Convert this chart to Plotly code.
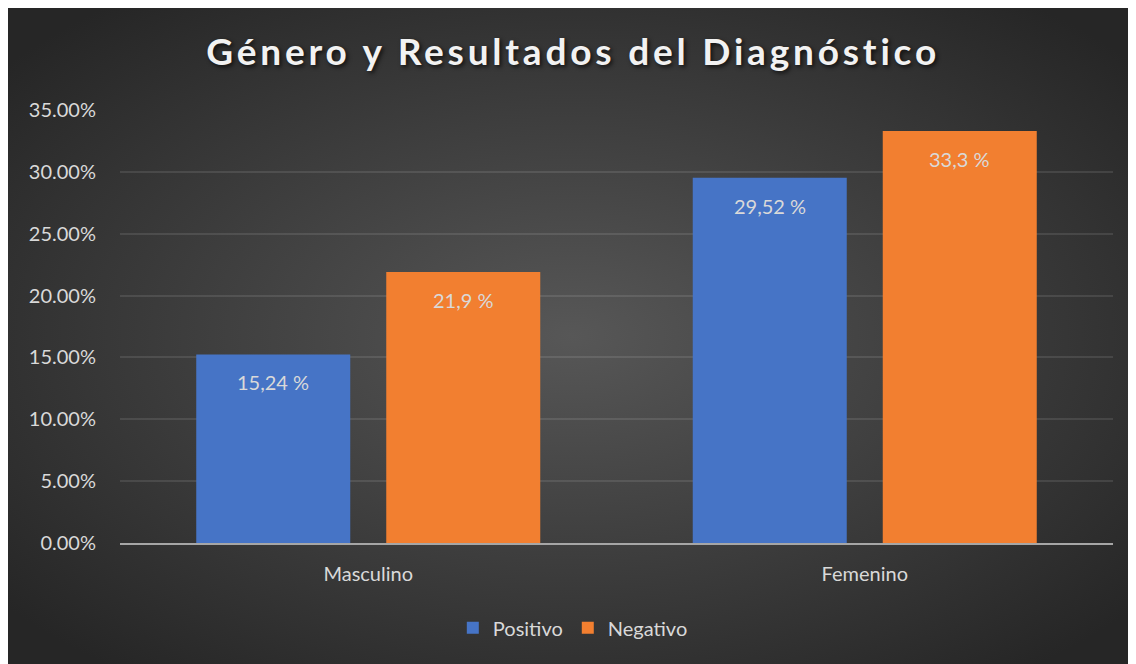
import base64
from plotly.graph_objects import Bar, Figure

# datos
generos = ["Masculino", "Femenino"]
positivo = [15.24, 29.52]
negativo = [21.9, 33.3]
series = ["Positivo", "Negativo"]
ticks_y = [0, 5, 10, 15, 20, 25, 30, 35]
textos_y = [f"{v:.2f}%" for v in ticks_y]

colores = ["#4674c6", "#f27f30"]


def etiqueta(v):
    """formatea un valor como en el original: coma decimal y ' %'"""
    return str(v).replace(".", ",") + " %"


# fondo con degradado radial (como en Excel)
svg = """<svg xmlns='http://www.w3.org/2000/svg' width='1128' height='656'>
<defs><radialGradient id='g' cx='50%' cy='50%' r='65%'>
<stop offset='0' stop-color='#575757'/><stop offset='1' stop-color='#262626'/>
</radialGradient></defs>
<rect width='1128' height='656' fill='url(#g)'/></svg>"""
fondo = "data:image/svg+xml;base64," + base64.b64encode(svg.encode()).decode()

fig = Figure()
for nombre, valores, color in zip(series, [positivo, negativo], colores):
    fig.add_trace(Bar(x=generos, y=valores, name=nombre, marker_color=color,
                      marker_line_width=0, hoverinfo="skip"))

# etiquetas de datos dentro de la barra, cerca del extremo
for valores, desplaz in zip([positivo, negativo], [-95, 95]):
    for g, v in zip(generos, valores):
        fig.add_annotation(x=g, y=v, text=etiqueta(v), showarrow=False,
                           xshift=desplaz, yshift=-28, yanchor="middle",
                           font=dict(family="Lato", size=20, color="#d9d9d9"))

titulo = ("<span style='letter-spacing:3.8px'><b>Género y Resultados del "
          "Diagnóstico</b></span>")

# la pagina tiene un margen de 8px en el body -> figura de 1128x656
fig.update_layout(
    width=1128, height=656,
    margin=dict(l=112, r=23, t=102, b=121),
    paper_bgcolor="#2b2b2b", plot_bgcolor="rgba(0,0,0,0)",
    font=dict(family="Lato", size=20, color="#d9d9d9"),
    title=dict(text=titulo,
               x=0.501, xanchor="center", y=0.933, yanchor="middle",
               font=dict(family="Lato", size=37, color="#f2f2f2",
                         shadow="2px 2px 4px rgba(0,0,0,0.7)")),
    barmode="group", bargap=0.2346, bargroupgap=0.1895,
    showlegend=True,
    legend=dict(orientation="h", x=0.456, xanchor="center", y=-0.196,
                yanchor="middle", font=dict(size=20, color="#d9d9d9"),
                bgcolor="rgba(0,0,0,0)", itemclick=False),
    images=[dict(source=fondo, xref="paper", yref="paper",
                 x=-0.1128, y=1.2356, sizex=1.136, sizey=1.515,
                 sizing="stretch", xanchor="left", yanchor="top",
                 layer="below")],
)
fig.update_xaxes(showgrid=False, showline=True, linecolor="#a6a6a6",
                 linewidth=2, ticks="", tickfont=dict(size=20), ticklabelstandoff=12)
fig.update_yaxes(range=[0, 35], tickmode="array", tickvals=ticks_y,
                 ticktext=textos_y, showgrid=True,
                 gridcolor="rgba(255,255,255,0.10)", gridwidth=1.5,
                 zeroline=False, showline=False,
                 tickfont=dict(size=20), ticklabelstandoff=23)

fig.write_html("out.html")
